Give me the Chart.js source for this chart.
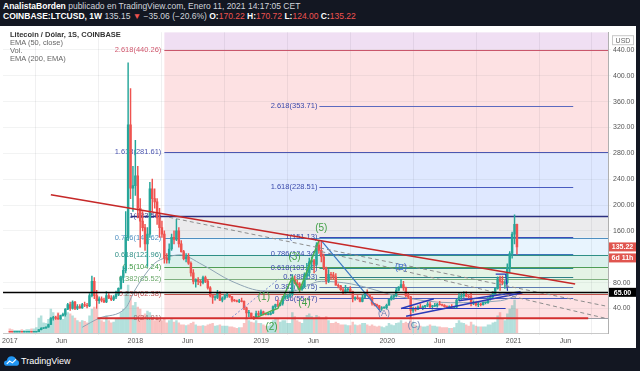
<!DOCTYPE html>
<html>
<head>
<meta charset="utf-8">
<script src="https://cdn.jsdelivr.net/npm/chart.js@4.4.1/dist/chart.umd.min.js"></script>
<style>
html, body { margin: 0; padding: 0; width: 640px; height: 371px; overflow: hidden; background: #131722;
  font-family: "Liberation Sans", Arial, sans-serif; }
#hdr { position: absolute; left: 3px; top: 1px; color: #d1d4dc; font-size: 8.5px; line-height: 10px; white-space: nowrap; }
#hdr b { color: #fff; }
#hdr .r { color: #ef5350; }
#wrap { position: absolute; left: 0; top: 26px; width: 636px; height: 322px; background: #fff; }
#legend { position: absolute; left: 10px; top: 5px; font-size: 7.5px; line-height: 8px; color: #666; white-space: nowrap; }
#legend .t { color: #333; font-weight: bold; }
#foot { position: absolute; left: 4px; top: 355px; color: #fff; font-size: 9px; line-height: 12px; }
#foot svg { vertical-align: top; margin-right: 2px; }
</style>
</head>
<body>
<div id="hdr">
  <div><b>AnalistaBorden</b> publicado en TradingView.com, Enero 11, 2021 14:17:05 CET</div>
  <div><b>COINBASE:LTCUSD, 1W</b> 135.15 <span class="r">&#9660;</span> &minus;35.06 (&minus;20.6%) <b>O:</b><span class="r">170.22</span> <b>H:</b><span class="r">170.72</span> <b>L:</b><span class="r">124.00</span> <b>C:</b><span class="r">135.22</span></div>
</div>
<div id="wrap">
  <canvas id="c" width="636" height="322"></canvas>
  <div id="legend">
    <div class="t">Litecoin / Dólar, 1S, COINBASE</div>
    <div>EMA (50, close)</div>
    <div>Vol.</div>
    <div>EMA (200, EMA)</div>
  </div>
</div>
<div id="foot"><svg width="15" height="12" viewBox="0 0 16 12"><path d="M2 11 Q0 11 0 8.5 Q0 5.5 3 5.5 Q4 1 8 1 Q12 1 13 5 Q16 5 16 8.5 Q16 11 14 11 Z" fill="#2196f3"/><polyline points="3,9 6,6 9,8 13,4" stroke="#fff" stroke-width="1.2" fill="none"/></svg>TradingView</div>

<script>
// weekly candles, index 0 = week of 2 Jan 2017, index 210 = week of 11 Jan 2021
const opens = [
  4.3,3.9,3.8,3.8,3.9,3.9,3.7,3.7,3.8,3.9,3.8,3.9,4.1,7.3,9.5,9.6,11.2,15.3,25,26,25,24,29,31,39,46,
  40,50,40,43,41,46,45,44,60,82,60,52,55,53,50,60,56,54,58,62,71,88,99,150,324,226,
  230,245,195,175,165,140,155,225,210,205,180,165,155,118,115,132,150,147,160,140,128,117,120,110,95,82,
  84,82,80,88,82,72,60,57,57,64,53,56,60,61,58,53,52,51,52,51,41,33,33,27,26,32,
  31,35,32,31,31,33,43,46,45,48,56,59,59,62,85,80,78,70,74,90,95,112,114,108,138,130,
  120,103,83,93,92,89,76,75,69,64,69,70,66,55,57,56,51,57,63,61,57,48,46,44,40,41,
  41,45,54,58,60,68,73,77,72,60,58,37,39,38,42,41,43,45,47,43,44,44,47,46,45,43,
  41,43,42,42,53,58,60,62,59,58,48,50,46,47,46,49,49,56,58,63,71,86,82,79,80,102,
  125,155,170.22
];
const highs = [
  4.6,4.0,3.9,4.0,4.0,4.0,3.8,3.9,4.0,4.0,4.0,4.5,7.5,10.5,10,11.5,15.8,26,28,28,32,30,33,40,48,50,
  52,51,46,46,48,50,48,63,90,88,68,58,58,56,66,63,60,60,67,72,90,105,190,420,380,260,
  300,260,210,190,170,165,235,240,225,210,195,175,160,125,140,155,160,178,165,145,130,125,125,112,100,86,
  88,84,90,90,85,74,61,60,68,66,58,62,64,62,59,54,53,54,56,52,42,37,33,28,36,36,
  38,36,33,33,35,44,47,53,50,58,62,62,66,92,90,84,80,76,95,110,118,120,116,142,145,145,
  124,104,100,96,96,94,78,76,72,76,71,74,67,58,60,57,61,65,69,62,58,48,47,45,43,43,
  47,55,60,61,72,74,85,82,73,64,59,42,42,44,47,44,45,50,50,45,48,48,51,47,46,44,
  44,46,43,54,63,63,66,66,62,64,52,50,49,48,50,50,57,61,66,72,89,90,90,83,109,128,
  158,185,170.72
];
const lows = [
  3.7,3.6,3.7,3.8,3.8,3.6,3.6,3.7,3.7,3.7,3.7,3.8,4.0,6.8,8.9,9.4,11,15,22,23,23,23,28,28,38,37,
  39,38,38,40,40,43,41,43,58,55,40,48,50,49,49,55,52,52,55,60,70,80,95,145,210,190,
  215,180,135,160,130,105,150,190,195,170,150,150,110,110,110,130,140,145,135,127,115,112,108,90,78,73,
  77,75,78,80,70,58,48,53,55,52,50,54,57,57,50,51,50,49,50,38,26,27,26,23,25,28,
  30,30,30,30,30,32,40,43,44,45,54,55,57,60,78,76,66,68,72,85,90,100,95,106,125,112,
  100,78,80,85,85,76,72,68,63,64,66,64,50,53,54,50,50,56,60,56,45,44,43,38,37,40,
  39,45,53,54,58,67,72,68,58,55,26,34,36,38,40,38,41,43,40,39,43,42,45,44,42,40,
  40,41,41,41,53,54,57,58,55,44,46,44,43,44,45,47,48,53,55,60,70,68,77,71,78,95,
  118,140,124
];
const closes = [
  3.9,3.8,3.8,3.9,3.9,3.7,3.7,3.8,3.9,3.8,3.9,4.1,7.3,9.5,9.6,11.2,15.3,25,26,25,24,29,31,39,46,40,
  50,40,43,41,46,45,44,60,82,60,52,55,53,50,60,56,54,58,62,71,88,99,150,324,226,230,
  245,195,175,165,140,155,225,210,205,180,165,155,118,115,132,150,147,160,140,128,117,120,110,95,82,84,
  82,80,88,82,72,60,57,57,64,53,56,60,61,58,53,52,51,52,51,41,33,33,27,26,32,31,
  35,32,31,31,33,43,46,45,48,56,59,59,62,85,80,78,70,74,90,95,112,114,108,138,130,120,
  103,83,93,92,89,76,75,69,64,69,70,66,55,57,56,51,57,63,61,57,48,46,44,40,41,41,
  45,54,58,60,68,73,77,72,60,58,37,39,38,42,41,43,45,47,43,44,44,47,46,45,43,41,
  43,42,42,53,58,60,62,59,58,48,50,46,47,46,49,49,56,58,63,71,86,82,79,80,102,125,
  155,170.22,135.22
];
const volumes = [
  6,5,4,4,4,5,4,5,5,6,6,8,22,25,15,14,20,35,30,25,30,22,20,28,30,28,
  25,22,18,16,18,17,15,25,35,38,35,22,18,16,25,18,15,16,20,22,30,35,60,70,55,40,
  45,38,35,25,28,32,30,22,18,20,22,18,20,15,18,20,16,18,15,12,12,11,12,14,16,12,
  10,10,11,10,12,13,14,10,11,12,10,10,10,9,9,8,7,8,8,14,22,18,16,15,18,14,
  14,12,10,10,12,18,20,20,16,18,18,14,14,30,24,18,16,14,22,26,28,24,20,26,24,22,
  22,24,18,14,14,16,14,12,12,12,11,11,16,12,11,12,14,14,12,10,12,10,9,10,9,8,
  10,14,12,11,14,15,18,14,16,14,28,16,12,10,10,9,9,10,12,10,10,9,9,8,8,8,
  7,7,8,14,18,15,14,12,10,16,12,10,9,9,9,9,12,12,15,16,25,30,20,18,28,35,
  40,48,35
];

// EMA 50 (week, value)
const emaWeeks = [30,37,48,51.6,55,60,65,70.5,79.6,92,105.6,116.7,129,141.4,162,182.6,203.2,210];
const ema50 = [11,25,41,67,87,110,119,123,108,82,67,67,82,78,58,49,52,60];

// axis ticks
const tickWeeks = [0,21.4,52,73.6,104.1,125.7,156.3,178,208.6,230.1];
const tickLabels = ['2017','Jun','2018','Jun','2019','Jun','2020','Jun','2021','Jun'];
const priceTicks = [40,80,160,200,240,280,320,360,400,440];

// Fibonacci retracements
const fibRatios = ['0','0.236','0.382','0.5','0.618','0.786','1','1.618','2.618'];
const fib1Prices = [24.91,62.38,85.52,104.24,122.96,149.62,183.56,281.61,440.26];
const fib2Prices = [25.92,55.47,73.75,88.53,103.30,124.34,151.13,228.51,353.71];
const fib1Start = 64, fib2Start = 128.2, fib2End = 233.3;

// Elliott wave labels (week, value)
const waveNames = ['(1)','(2)','(3)','(4)','(5)','(A)','(B)','(C)'];
const waveWeeks = [105.2,108.4,117.9,122,129,155,162,167.4];
const waveValues = [57,11,120,48,164,32,104,13];

const lastClose = 135.22, keyLevel = 65;

const bandColors = ['#f23645','#81c784','#4caf50','#089981','#64b5f6','#787b86','#2962ff','#f23645','#9c27b0'];
const fib1LineColors = ['#9a9ca5','#c0504a','#7fb07f','#4f9d55','#2f8f86','#4f8fc0','#2b2f80','#4c56b0','#c9566b'];
const fib1LabelColors = ['#9a6a6a','#c05050','#6aa86a','#3f9a45','#2f8f86','#4f8fc0','#3b3f90','#4c56b0','#d0586e'];
const fib2LineColors = ['#5b6abf','#4a5cc0','#5d7bb0','#2f7f86','#2e8a8f','#3c74b8','#3b4cb8','#4a5cc0','#5b6abf'];

function rgba(hex, a) {
  const n = parseInt(hex.slice(1), 16);
  return `rgba(${n >> 16},${(n >> 8) & 255},${n & 255},${a})`;
}

const up = '#26a69a', down = '#ef5350';
const candleColors = closes.map((c, i) => c >= opens[i] ? up : down);
const volColors = closes.map((c, i) => c >= opens[i] ? 'rgba(38,166,154,0.35)' : 'rgba(239,83,80,0.35)');

function seg(pts, color, width, dash) {
  return {
    type: 'line', data: pts.map(p => ({x: p[0], y: p[1]})), borderColor: color, borderWidth: width,
    borderDash: dash || [], pointRadius: 0, fill: false, order: 0
  };
}

const fibPlugin = {
  id: 'fib',
  beforeDraw(chart) {
    const {ctx, chartArea: a, scales: {x, y}} = chart;
    ctx.save();
    ctx.beginPath(); ctx.rect(a.left, a.top, a.right - a.left, a.bottom - a.top); ctx.clip();
    const x0 = x.getPixelForValue(fib1Start);
    fib1Prices.forEach((p, i) => {
      const lo = y.getPixelForValue(p);
      const hi = i < fib1Prices.length - 1 ? y.getPixelForValue(fib1Prices[i + 1]) : a.top;
      ctx.fillStyle = rgba(bandColors[i], 0.15);
      ctx.fillRect(x0, hi, a.right - x0, lo - hi);
    });
    ctx.restore();
  },
  beforeDatasetsDraw(chart) {
    const {ctx, chartArea: a, scales: {x, y}} = chart;
    ctx.save();
    ctx.beginPath(); ctx.rect(a.left, a.top, a.right - a.left, a.bottom - a.top); ctx.clip();
    const x0 = x.getPixelForValue(fib1Start);
    const x1 = x.getPixelForValue(fib2Start), x2 = x.getPixelForValue(fib2End);
    fib1Prices.forEach((p, i) => {
      const py = Math.round(y.getPixelForValue(p)) + 0.5;
      ctx.strokeStyle = fib1LineColors[i];
      ctx.lineWidth = i === 6 ? 1.6 : 1;
      ctx.beginPath();
      ctx.moveTo(i === 6 ? x.getPixelForValue(50) : x0, py); ctx.lineTo(a.right, py); ctx.stroke();
    });
    fib2Prices.forEach((p, i) => {
      if (i === 0) return;
      const py = Math.round(y.getPixelForValue(p)) + 0.5;
      ctx.strokeStyle = fib2LineColors[i];
      ctx.lineWidth = 1;
      ctx.beginPath(); ctx.moveTo(x1, py); ctx.lineTo(x2, py); ctx.stroke();
    });
    ctx.font = '7.5px "Liberation Sans", Arial, sans-serif';
    ctx.textAlign = 'right'; ctx.textBaseline = 'middle';
    fib1Prices.forEach((p, i) => {
      ctx.fillStyle = fib1LabelColors[i];
      ctx.fillText(`${fibRatios[i]}(${p.toFixed(2)})`, x0 - 3, y.getPixelForValue(p));
    });
    fib2Prices.forEach((p, i) => {
      if (i === 0) return;
      ctx.fillStyle = '#3949ab';
      ctx.fillText(`${fibRatios[i]}(${p.toFixed(2)})`, x1 - 2, y.getPixelForValue(p));
    });
    ctx.restore();
  },
  afterDatasetsDraw(chart) {
    const {ctx, chartArea: a, scales: {x, y}} = chart;
    ctx.save();
    const ky = Math.round(y.getPixelForValue(keyLevel)) + 0.5;
    ctx.strokeStyle = '#000'; ctx.lineWidth = 1.5;
    ctx.beginPath(); ctx.moveTo(a.left, ky); ctx.lineTo(a.right, ky); ctx.stroke();
    ctx.textAlign = 'center'; ctx.textBaseline = 'middle';
    waveNames.forEach((n, i) => {
      const green = i < 5;
      ctx.font = (green ? '10px' : '9px') + ' "Liberation Sans", Arial, sans-serif';
      ctx.fillStyle = green ? '#43a047' : (n === '(B)' ? '#3f6fd8' : '#6a7fb0');
      ctx.fillText(n, x.getPixelForValue(waveWeeks[i]), y.getPixelForValue(waveValues[i]));
    });
    ctx.restore();
  },
  afterDraw(chart) {
    const {ctx, chartArea: a, scales: {y}} = chart;
    const box = (cy, text, bg) => {
      ctx.fillStyle = bg;
      ctx.fillRect(a.right + 1, cy - 4.5, 27, 9);
      ctx.fillStyle = '#fff';
      ctx.fillText(text, a.right + 14.5, cy + 0.5);
    };
    ctx.save();
    ctx.font = 'bold 7px "Liberation Sans", Arial, sans-serif';
    ctx.textAlign = 'center'; ctx.textBaseline = 'middle';
    const cy = y.getPixelForValue(lastClose);
    box(cy, lastClose.toFixed(2), '#e0554f');
    box(cy + 11, '6d 11h', '#e0554f');
    box(y.getPixelForValue(keyLevel), keyLevel.toFixed(2), '#000');
    ctx.strokeStyle = '#c8c8c8'; ctx.lineWidth = 1;
    ctx.strokeRect(a.right + 4.5, a.top + 3.5, 21, 9);
    ctx.font = '7px "Liberation Sans", Arial, sans-serif';
    ctx.fillStyle = '#666';
    ctx.fillText('USD', a.right + 15, a.top + 8.5);
    ctx.restore();
  }
};

const idx = closes.map((c, i) => i);

new Chart(document.getElementById('c'), {
  type: 'bar',
  data: {
    datasets: [
      { label: 'Vol', data: idx.map(i => ({x: i, y: volumes[i]})), yAxisID: 'yv',
        backgroundColor: volColors, barThickness: 1.8, grouped: false, order: 10 },
      { type: 'line', label: 'EMA 50', data: emaWeeks.map((w, i) => ({x: w, y: ema50[i]})),
        borderColor: '#8ea4b4', borderWidth: 1, pointRadius: 0, cubicInterpolationMode: 'monotone', order: 5 },
      { label: 'wick', data: idx.map(i => ({x: i, y: [lows[i], highs[i]]})),
        backgroundColor: candleColors, barThickness: 0.8, grouped: false, order: 3 },
      { label: 'body', data: idx.map(i => ({x: i, y: [opens[i], closes[i]]})),
        backgroundColor: candleColors, barThickness: 1.8, minBarLength: 0.6, grouped: false, order: 2 },
      seg([[17, 216], [234.1, 78]], '#c62828', 1.6),
      seg([[36.3, 24.9], [239.5, 24.9]], '#d32f2f', 1.8),
      seg([[66, 181], [246.5, 44]], '#8c8c8c', 1, [4, 3]),
      seg([[129, 128], [246.5, 25]], '#8c8c8c', 1, [4, 3]),
      seg([[92, 26.4], [111.3, 85.5]], '#7a8fd0', 1, [2, 2]),
      seg([[101, 24], [108, 36], [111, 40], [117, 88], [120, 68], [128, 145]], '#4caf50', 1.5),
      seg([[129, 145], [153.8, 34]], '#3b78c4', 1.2),
      seg([[164.1, 27.9], [212.3, 64.2]], '#2a3ab8', 1.5),
      seg([[162, 40], [175.6, 55.2]], '#2a3ab8', 1.5),
      seg([[185.9, 52.1], [211.5, 65.8]], '#2a3ab8', 1.5),
      seg([[162, 40], [205.3, 40]], '#2a3ab8', 1.2),
      seg([[201.2, 93], [205.3, 93], [206.1, 67.3]], '#2a3ab8', 1.2)
    ]
  },
  options: {
    responsive: false, animation: false, devicePixelRatio: 1,
    layout: { padding: 0 },
    plugins: { legend: { display: false }, tooltip: { enabled: false } },
    scales: {
      x: {
        type: 'linear', min: -2.8, max: 247.7, offset: false,
        afterBuildTicks: s => { s.ticks = tickWeeks.map(v => ({value: v})); },
        afterFit: s => { s.height = 15; },
        ticks: { callback: (v, i) => tickLabels[i], autoSkip: false, maxRotation: 0, padding: 2,
          color: '#555', font: { size: 7, family: '"Liberation Sans", Arial, sans-serif' } },
        grid: { color: 'rgba(42,46,57,0.07)', drawTicks: true, tickLength: 2 },
        border: { color: '#c8c8c8' }
      },
      y: {
        position: 'right', min: 2.1, max: 467.3,
        afterBuildTicks: s => { s.ticks = priceTicks.map(v => ({value: v})); },
        afterFit: s => { s.width = 28; },
        ticks: { callback: v => v.toFixed(2), padding: 2, color: '#555',
          font: { size: 7, family: '"Liberation Sans", Arial, sans-serif' } },
        grid: { color: 'rgba(42,46,57,0.06)', drawTicks: true, tickLength: 3 },
        border: { color: '#b0b0b0' }
      },
      yv: { display: false, min: 0, max: 440 }
    }
  },
  plugins: [fibPlugin]
});
</script>
</body>
</html>
